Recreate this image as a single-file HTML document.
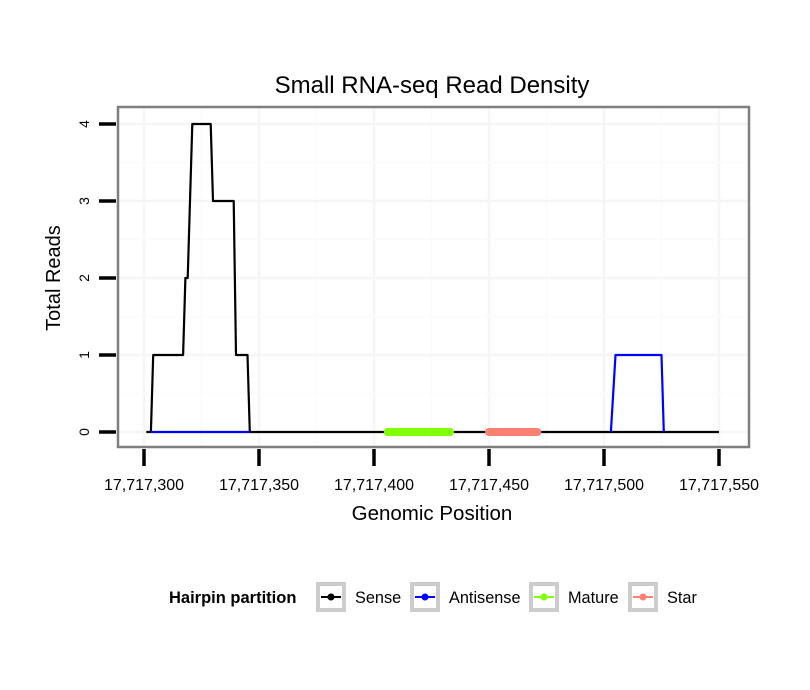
<!DOCTYPE html>
<html><head><meta charset="utf-8"><style>
body{margin:0;background:#fff;}
svg{display:block;font-family:"Liberation Sans",sans-serif;}
</style></head><body>
<svg id="chart" width="810" height="690">
<text x="432" y="93" font-size="24" text-anchor="middle">Small RNA-seq Read Density</text>
<g id="grid"></g><g id="marks"></g><g id="axes"></g>
<rect x="118" y="107" width="631" height="340" fill="none" stroke="#7f7f7f" stroke-width="2.5"/>
<text x="432" y="520" font-size="20.5" text-anchor="middle">Genomic Position</text>
<text transform="translate(60,278) rotate(-90)" font-size="20" text-anchor="middle">Total Reads</text>
<g font-size="14">
<text x="169" y="603" font-weight="bold" font-size="16.5">Hairpin partition</text>
<g id="legend"></g>
</g>
</svg>
<script>
const xTicks=[17717300,17717350,17717400,17717450,17717500,17717550];
const xTickLabels=["17,717,300","17,717,350","17,717,400","17,717,450","17,717,500","17,717,550"];
const yTicks=[0,1,2,3,4];
const sensePos=[17717301,17717303,17717304,17717317,17717318,17717319,17717321,17717329,17717330,17717339,17717340,17717345,17717346,17717550];
const senseReads=[0,0,1,1,2,2,4,4,3,3,1,1,0,0];
const antiPosA=[17717303,17717346];
const antiReadsA=[0,0];
const antiPosB=[17717503,17717505,17717525,17717526];
const antiReadsB=[0,1,1,0];
const maturePos=[17717406,17717433];
const starPos=[17717450,17717471];
const legendItems=["Sense","Antisense","Mature","Star"];
const legendColors=["#000","#0000ff","#7fff00","#fa8072"];

const NS="http://www.w3.org/2000/svg";
const X=v=>144+(v-17717300)*2.3;
const Y=v=>432-v*77;
function mk(p,t,a){const e=document.createElementNS(NS,t);for(const k in a)e.setAttribute(k,a[k]);document.getElementById(p).appendChild(e);return e;}
for(let i=0;i<xTicks.length;i++){
 const g=mk('grid','line',{x1:X(xTicks[i]),x2:X(xTicks[i]),y1:108,y2:446,stroke:'#f6f6f6','stroke-width':2.5});
 
 
 if(i<xTicks.length-1){const m=mk('grid','line',{x1:X(xTicks[i]+25),x2:X(xTicks[i]+25),y1:108,y2:446,stroke:'#fbfbfb','stroke-width':1.5});
 
 }
}
for(let i=0;i<yTicks.length;i++){
 const g=mk('grid','line',{x1:119,x2:748,y1:Y(yTicks[i]),y2:Y(yTicks[i]),stroke:'#f6f6f6','stroke-width':2.5});
 
 
 if(i<yTicks.length-1){const m=mk('grid','line',{x1:119,x2:748,y1:Y(yTicks[i]+0.5),y2:Y(yTicks[i]+0.5),stroke:'#fbfbfb','stroke-width':1.5});
 
 }
}
function path(xs,ys,color,w,name){
 const d=xs.map((v,i)=>(i?'L':'M')+X(v)+','+Y(ys[i])).join('');
 const p=mk('marks','path',{d:d,fill:'none',stroke:color,'stroke-width':w,'stroke-linejoin':'round'});
 
 
}
path(sensePos,senseReads,'#000',2.2,'sense-line');
path(antiPosA,antiReadsA,'#0000ff',2.2,'antisense-line');
path(antiPosB,antiReadsB,'#0000ff',2.2,'antisense-line-peak');
const mt=mk('marks','line',{x1:X(maturePos[0]),x2:X(maturePos[1]),y1:Y(0),y2:Y(0),stroke:'#7fff00','stroke-width':8,'stroke-linecap':'round'});


const st=mk('marks','line',{x1:X(starPos[0]),x2:X(starPos[1]),y1:Y(0),y2:Y(0),stroke:'#fa8072','stroke-width':8,'stroke-linecap':'round'});


for(let i=0;i<xTicks.length;i++){
 const t=mk('axes','line',{x1:X(xTicks[i]),x2:X(xTicks[i]),y1:449,y2:466,stroke:'#000','stroke-width':3.5});
 
 
 const l=mk('axes','text',{x:X(xTicks[i]),y:490,'font-size':16,'text-anchor':'middle'});
 l.textContent=xTickLabels[i];
 
 
}
for(let i=0;i<yTicks.length;i++){
 const t=mk('axes','line',{x1:99,x2:116,y1:Y(yTicks[i]),y2:Y(yTicks[i]),stroke:'#000','stroke-width':3.5});
 
 
 const l=mk('axes','text',{transform:`translate(89,${Y(yTicks[i])}) rotate(-90)`,'font-size':14,'text-anchor':'middle'});
 l.textContent=String(yTicks[i]);
 
 
}
const boxX=[316,410,529,628];
for(let i=0;i<legendItems.length;i++){
 const bx=boxX[i];
 const r=mk('legend','rect',{x:bx+2,y:584,width:26,height:26,fill:'#fff',stroke:'#cccccc','stroke-width':4});
 
 
 const ln=mk('legend','line',{x1:bx+5,x2:bx+25,y1:597,y2:597,stroke:legendColors[i],'stroke-width':2});
 
 
 const c=mk('legend','circle',{cx:bx+15,cy:597,r:3.5,fill:legendColors[i]});
 
 
 const t=mk('legend','text',{x:bx+39,y:603,'font-size':16.3});
 t.textContent=legendItems[i];
 
 
}
</script>
</body></html>
